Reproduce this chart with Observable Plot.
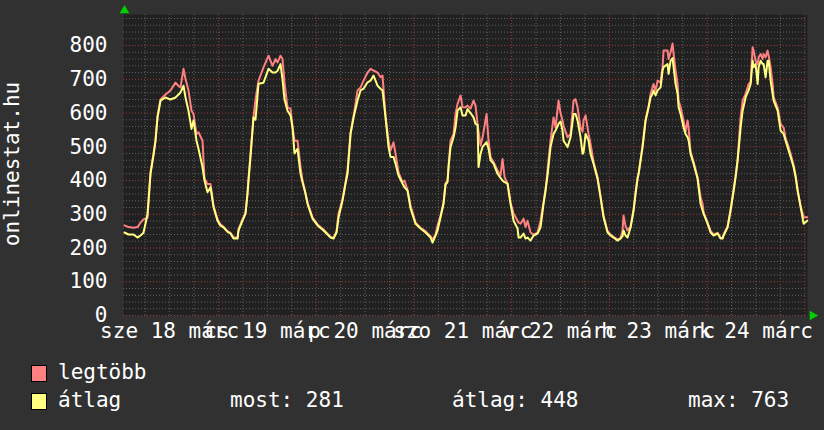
<!DOCTYPE html>
<html>
<head>
<meta charset="utf-8">
<script src="https://cdn.jsdelivr.net/npm/d3@7"></script>
<script src="https://cdn.jsdelivr.net/npm/@observablehq/plot@0.6"></script>
<style>
  html, body { margin: 0; padding: 0; background: #313131; }
  #wrap { width: 824px; height: 430px; position: relative; background: #313131; font-family: "DejaVu Sans Mono", monospace; color: #fff; }
  #legend { position: absolute; left: 0; top: 350px; width: 824px; height: 80px; font-size: 21px; }
  #legend span { position: absolute; white-space: pre; line-height: 1.164; }
  #legend .sw { width: 14px; height: 15px; border: 1px solid #000; }
</style>
</head>
<body>
<div id="wrap">
  <div id="chart"></div>
  <div id="legend"></div>
</div>
<script>
// Time axis: hours after 2015-03-18 00:00 (UTC used for stable rendering)
const startHour = 0.667, endHour = 168.667;
const dayLabels = ["sze 18 márc", "cs 19 márc", "p 20 márc", "szo 21 márc", "v 22 márc", "h 23 márc", "k 24 márc"];
const yTicks = [0, 100, 200, 300, 400, 500, 600, 700, 800];
const yMax = 892;
const seriesNames = ["legtöbb", "átlag"];
const seriesColors = ["#ff8080", "#ffff80"];
const legendStats = ["most: 281", "átlag: 448", "max: 763"];
const axisTitle = "onlinestat.hu";

const hours = [
  0.91,1.90,3.12,4.11,4.84,5.58,6.56,7.30,8.04,8.53,9.02,9.76,10.98,12.21,13.44,14.18,14.67,15.41,15.90,16.63,
  17.37,17.86,18.60,19.09,20.07,20.57,21.30,22.04,22.78,23.76,24.49,25.23,26.21,26.95,27.69,28.67,28.92,29.90,30.64,31.13,
  31.37,31.86,32.60,33.09,33.83,35.06,36.29,37.27,38.00,38.50,39.23,39.72,40.22,40.95,41.69,42.18,42.67,43.41,44.15,44.64,
  45.38,45.87,47.10,48.33,49.80,51.52,52.26,53.00,53.49,54.47,55.20,55.69,56.43,57.17,58.15,58.89,59.62,60.61,61.34,62.08,
  63.06,63.80,64.29,65.03,65.76,66.25,66.99,67.48,68.22,69.20,69.69,70.43,71.17,72.40,73.62,74.85,76.08,76.57,77.31,77.80,
  78.53,79.27,79.76,80.25,80.50,80.99,81.73,82.22,82.71,83.45,83.94,84.68,85.17,85.91,86.64,87.13,87.63,87.87,88.36,88.86,
  89.84,90.33,90.82,91.55,92.54,93.27,93.76,94.26,94.99,95.73,96.47,97.45,97.70,98.19,98.92,99.41,99.90,100.64,101.38,102.36,
  103.10,103.83,104.32,104.82,105.55,106.29,106.78,107.52,108.01,108.50,108.75,109.24,109.73,110.47,111.21,111.70,112.19,112.93,113.42,113.67,
  114.16,114.89,115.38,116.12,117.10,117.84,118.58,119.56,120.30,121.03,122.01,122.75,123.24,123.49,123.98,124.47,125.21,125.95,126.44,126.93,
  127.18,128.16,128.90,129.64,130.13,130.62,130.86,131.35,131.85,132.58,133.07,133.32,134.30,134.55,135.04,135.53,135.78,136.27,136.76,137.01,
  137.50,138.23,138.72,139.21,139.46,139.95,140.69,141.67,142.41,142.90,143.15,144.13,144.87,145.60,146.59,147.32,147.81,148.06,149.04,149.78,
  150.52,151.01,151.50,152.24,152.73,153.47,154.20,154.70,155.19,155.43,155.92,156.42,156.66,157.15,157.64,157.89,158.38,158.87,159.12,159.61,
  160.10,160.35,161.33,162.06,162.80,163.29,163.78,164.52,165.26,165.75,166.24,166.98,167.72,168.60
];
const maxVals = [
  267,262,260,262,275,285,290,425,480,520,590,640,655,667,690,680,676,731,701,667,
  607,597,538,543,518,405,390,390,325,285,270,263,250,245,232,230,255,285,305,365,
  405,480,590,640,696,735,770,740,760,750,770,760,690,616,613,560,518,518,440,400,
  361,335,290,270,255,233,230,250,302,345,395,430,540,590,667,676,696,720,731,726,
  720,706,711,590,518,489,513,480,424,395,400,372,326,275,260,250,235,225,240,267,
  295,335,392,400,440,518,538,597,627,652,617,617,622,613,637,622,568,545,504,528,
  597,518,470,455,430,415,464,410,391,335,302,281,275,272,287,262,281,246,240,245,
  281,335,372,430,518,587,557,637,600,578,563,545,528,538,637,641,617,557,545,578,
  593,538,509,455,410,352,295,250,240,233,225,230,252,296,265,252,263,315,365,410,
  420,505,580,620,657,676,686,667,696,691,736,785,785,760,780,806,775,726,686,637,
  617,578,545,578,557,485,455,410,350,331,305,275,250,240,245,230,230,240,265,315,
  372,415,462,587,637,657,686,691,795,785,755,745,765,775,760,775,765,785,770,736,
  686,647,617,568,557,525,509,479,445,415,372,325,291,291
];
const avgVals = [
  246,240,240,231,237,245,300,420,475,518,587,637,646,640,646,655,661,681,646,607,
  553,578,518,494,440,400,365,380,321,281,266,261,248,243,228,228,252,281,302,361,
  400,470,587,580,687,690,731,720,720,725,745,700,640,607,593,557,480,494,420,395,
  361,331,287,267,252,231,228,246,291,341,391,420,538,587,637,667,672,691,696,711,
  681,672,667,587,499,470,470,450,415,391,380,370,317,272,258,246,231,216,237,252,
  291,331,388,395,440,499,528,557,607,617,593,593,612,600,587,568,564,440,479,500,
  514,494,460,450,420,408,400,395,391,331,281,258,231,231,243,228,231,222,237,243,
  261,331,370,415,499,538,548,568,575,548,518,509,499,528,597,597,578,528,479,484,
  538,518,479,450,405,350,291,246,237,231,222,228,235,252,237,231,261,311,361,405,
  420,499,578,617,647,657,667,652,667,676,726,736,745,716,755,763,736,686,657,617,
  597,557,538,528,520,479,450,405,331,311,302,272,246,237,243,228,228,237,261,311,
  370,410,459,557,607,647,667,686,755,736,745,686,736,755,745,745,706,755,755,696,
  657,637,607,548,538,518,499,470,440,410,370,321,272,281
];

const t0 = Date.UTC(2015, 2, 18);
const toDate = h => new Date(t0 + h * 3600e3);
const data = hours.map((h, i) => ({t: toDate(h), max: maxVals[i], avg: avgVals[i]}));
const xDomain = [toDate(startHour), toDate(endHour)];
const noon = dayLabels.map((_, i) => toDate(12 + 24 * i));
const sixHours = d3.utcHour.every(6).range(xDomain[0], xDomain[1]);
const midnights = sixHours.filter(d => d.getUTCHours() === 0);
const minorX = sixHours.filter(d => d.getUTCHours() !== 0);
const gridY = d3.range(0, yMax, 20);
const majorY = gridY.filter(v => v % 100 === 0);
const minorY = gridY.filter(v => v % 100 !== 0);

const chart = Plot.plot({
  width: 824,
  height: 350,
  marginLeft: 123,
  marginRight: 17,
  marginTop: 14,
  marginBottom: 35,
  x: {type: "utc", domain: xDomain},
  y: {domain: [0, yMax]},
  style: {background: "transparent", color: "#ffffff", fontFamily: "DejaVu Sans Mono", fontSize: "21px", overflow: "visible"},
  marks: [
    Plot.frame({fill: "#212121", stroke: null}),
    Plot.ruleY(minorY, {stroke: "#606060", strokeDasharray: "1,2"}),
    Plot.ruleX(minorX, {stroke: "#606060", strokeDasharray: "1,2"}),
    Plot.ruleY(majorY, {stroke: "#9a3a3a", strokeDasharray: "1,2"}),
    Plot.ruleX(midnights, {stroke: "#9a3a3a", strokeDasharray: "1,2"}),
    Plot.line(data, {x: "t", y: "max", stroke: seriesColors[0], strokeWidth: 2}),
    Plot.line(data, {x: "t", y: "avg", stroke: seriesColors[1], strokeWidth: 2}),
    Plot.axisX(noon, {tickSize: 0, tickPadding: 8, tickFormat: (d, i) => dayLabels[i], label: null, fontSize: "21px"}),
    Plot.axisY(yTicks, {tickSize: 0, tickPadding: 16, label: null, fontSize: "21px"}),
    Plot.text([axisTitle], {frameAnchor: "left", rotate: -90, dx: -111, dy: -1, fill: "#ffffff", fontSize: "21px", textAnchor: "middle", lineAnchor: "middle"}),
    Plot.dot([xDomain[0]], {x: d => d, y: () => yMax, symbol: "triangle", r: 3.6, fill: "#00d000", stroke: null, dy: -4, dx: 1}),
    Plot.dot([xDomain[1]], {x: d => d, y: () => 0, symbol: "triangle", r: 3.6, fill: "#00d000", stroke: null, rotate: 90, dx: 5})
  ]
});
document.getElementById("chart").appendChild(chart);

// Legend
const legend = document.getElementById("legend");
function addSpan(cls, left, top, text, bg) {
  const s = document.createElement("span");
  if (cls) s.className = cls;
  s.style.left = left + "px";
  s.style.top = top + "px";
  if (text) s.textContent = text;
  if (bg) s.style.background = bg;
  legend.appendChild(s);
}
addSpan("sw", 31, 15, null, seriesColors[0]);
addSpan("sw", 31, 43, null, seriesColors[1]);
addSpan(null, 58, 10, seriesNames[0]);
addSpan(null, 58, 38, seriesNames[1]);
addSpan(null, 230, 38, legendStats[0]);
addSpan(null, 452, 38, legendStats[1]);
addSpan(null, 688, 38, legendStats[2]);
</script>
</body>
</html>
